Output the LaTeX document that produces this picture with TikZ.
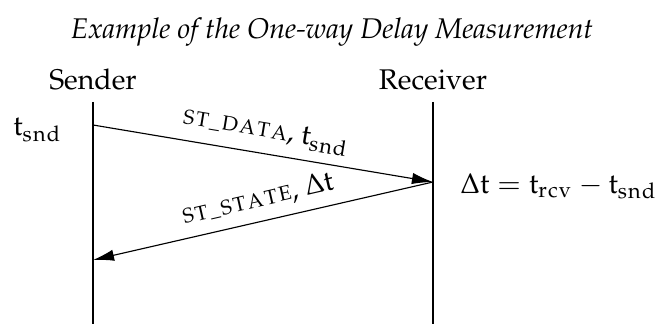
\documentclass[tikz,border=0pt]{standalone}
\usepackage[T1]{fontenc}
\usepackage{mathpazo}
\usepackage{tikz}
\usetikzlibrary{arrows.meta,positioning}

\makeatletter
\newcommand{\spacedcaps}[1]{{\fontsize{7.2}{8}\selectfont\@tfor\@ch:=#1\do{\@ch\kern.09em}\unkern}}
\newcommand{\tsub}[1]{\mathrm{t}_{\@tfor\@ch:=#1\do{\mathrm{\@ch}\mkern1mu}}}
\makeatother

\begin{document}
\begin{tikzpicture}
\useasboundingbox (-1.148,0) rectangle (6.988,4);
\node[font=\itshape, anchor=base] (title) at (2.951,3.53) {Example of the One-way Delay Measurement};
\node[anchor=base] (snd) at (0,2.89) {Sender};
\node[anchor=base] (rcv) at (4.198,2.89) {Receiver};
\coordinate (sTop) at (0,2.741); \coordinate (sBot) at (0,0);
\coordinate (rTop) at (4.198,2.741); \coordinate (rBot) at (4.198,0);
\draw[thick] (sTop) -- (sBot);
\draw[thick] (rTop) -- (rBot);
\coordinate (out) at (0,2.457);
\coordinate (in) at (4.198,1.753);
\coordinate (back) at (0,0.790);
\draw[-{Latex[length=2.6mm,width=1.4mm]}] (out) -- node[sloped, above] (msgA) {\spacedcaps{ST\_DATA}, $\tsub{snd}$} (in);
\draw[-{Latex[length=2.6mm,width=1.4mm]}] (in) -- node[sloped, above] (msgB) {\spacedcaps{ST\_STATE}, $\Delta\mathrm{t}$} (back);
\node[anchor=base east] (tsnd) at (-0.25,2.33) {$\tsub{snd}$};
\node[anchor=base west] (delta) at (4.41,1.617) {$\Delta\mathrm{t} = \tsub{rcv} - \tsub{snd}$};
\end{tikzpicture}
\end{document}
